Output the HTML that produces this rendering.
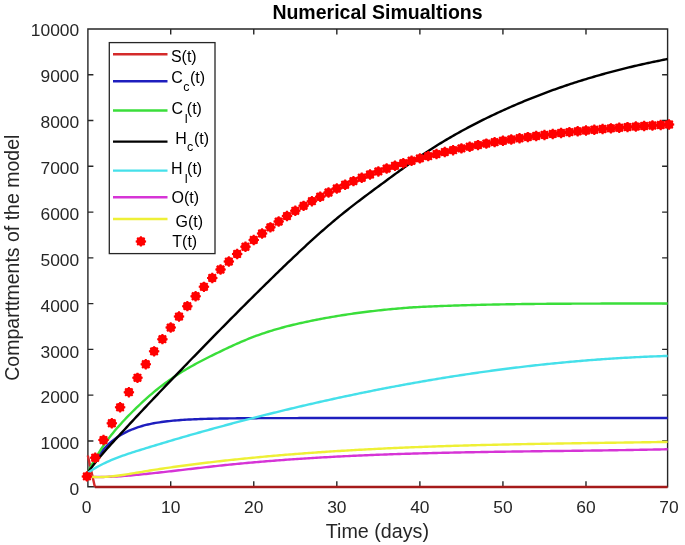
<!DOCTYPE html>
<html><head><meta charset="utf-8"><style>
html,body{margin:0;padding:0;background:#fff;}
svg{display:block;will-change:transform;}
text{font-family:"Liberation Sans",sans-serif;}
</style></head><body>
<svg width="685" height="545" viewBox="0 0 685 545">
<defs>
<g id="mk"><circle r="4.5" fill="#ff0000"/>
<path d="M-5.2,0H5.2M0,-5.2V5.2M-3.7,-3.7L3.7,3.7M-3.7,3.7L3.7,-3.7" stroke="#ff0000" stroke-width="2"/></g>
</defs>
<rect width="685" height="545" fill="#fff"/>
<text x="377.5" y="18.8" text-anchor="middle" font-weight="bold" font-size="19.5" fill="#000">Numerical Simualtions</text>
<g fill="#262626" font-size="17.4">
<text x="86.70" y="512.5" text-anchor="middle">0</text><text x="170.71" y="512.5" text-anchor="middle">10</text><text x="253.76" y="512.5" text-anchor="middle">20</text><text x="336.82" y="512.5" text-anchor="middle">30</text><text x="419.88" y="512.5" text-anchor="middle">40</text><text x="502.93" y="512.5" text-anchor="middle">50</text><text x="585.99" y="512.5" text-anchor="middle">60</text><text x="668.95" y="512.5" text-anchor="middle">70</text><text x="79.2" y="495.25" text-anchor="end">0</text><text x="79.2" y="449.35" text-anchor="end">1000</text><text x="79.2" y="403.45" text-anchor="end">2000</text><text x="79.2" y="357.55" text-anchor="end">3000</text><text x="79.2" y="311.65" text-anchor="end">4000</text><text x="79.2" y="265.75" text-anchor="end">5000</text><text x="79.2" y="219.85" text-anchor="end">6000</text><text x="79.2" y="173.95" text-anchor="end">7000</text><text x="79.2" y="128.05" text-anchor="end">8000</text><text x="79.2" y="82.15" text-anchor="end">9000</text><text x="79.2" y="36.25" text-anchor="end">10000</text>
</g>
<text x="377.4" y="538.4" text-anchor="middle" font-size="19.7" fill="#262626">Time (days)</text>
<text transform="translate(18.6,257.7) rotate(-90)" text-anchor="middle" font-size="19.5" fill="#262626">Comparttments of the model</text>
<path d="M87.9 29.0H667.6V486.7H87.9ZM170.71 486.7V481.2M170.71 29.0V34.5M253.76 486.7V481.2M253.76 29.0V34.5M336.82 486.7V481.2M336.82 29.0V34.5M419.88 486.7V481.2M419.88 29.0V34.5M502.93 486.7V481.2M502.93 29.0V34.5M585.99 486.7V481.2M585.99 29.0V34.5M87.9 486.70H93.4M667.6 486.70H662.1M87.9 440.93H93.4M667.6 440.93H662.1M87.9 395.16H93.4M667.6 395.16H662.1M87.9 349.39H93.4M667.6 349.39H662.1M87.9 303.62H93.4M667.6 303.62H662.1M87.9 257.85H93.4M667.6 257.85H662.1M87.9 212.08H93.4M667.6 212.08H662.1M87.9 166.31H93.4M667.6 166.31H662.1M87.9 120.54H93.4M667.6 120.54H662.1M87.9 74.77H93.4M667.6 74.77H662.1M87.9 29.00H93.4M667.6 29.00H662.1" fill="none" stroke="#262626" stroke-width="1.4"/>
<polyline points="87.80,455.58 94.84,486.70" stroke="#d42a2a" stroke-width="2.4" fill="none"/><polyline points="87.80,472.97 89.74,469.30 91.68,465.88 93.62,462.69 95.56,459.71 97.50,456.93 99.43,454.34 101.37,451.91 103.31,449.65 105.25,447.54 107.19,445.58 109.13,443.74 111.07,442.02 113.01,440.42 114.95,438.93 116.89,437.54 118.83,436.24 120.77,435.02 122.70,433.89 124.64,432.83 126.58,431.85 128.52,430.92 130.46,430.06 132.40,429.26 134.34,428.51 136.28,427.82 138.22,427.16 140.16,426.55 142.10,425.99 144.03,425.46 145.97,424.96 147.91,424.50 149.85,424.07 151.79,423.67 153.73,423.29 155.67,422.94 157.61,422.62 159.55,422.31 161.49,422.03 163.43,421.76 165.37,421.51 167.30,421.28 169.24,421.07 171.18,420.86 173.12,420.68 175.06,420.50 177.00,420.34 178.94,420.18 180.88,420.04 182.82,419.91 184.76,419.78 186.70,419.67 188.63,419.56 190.57,419.46 192.51,419.36 194.45,419.28 196.39,419.19 198.33,419.12 200.27,419.05 202.21,418.98 204.15,418.92 206.09,418.86 208.03,418.80 209.97,418.75 211.90,418.71 213.84,418.66 215.78,418.62 217.72,418.58 219.66,418.55 221.60,418.51 223.54,418.48 225.48,418.45 227.42,418.43 229.36,418.40 231.30,418.38 233.23,418.35 235.17,418.33 237.11,418.31 239.05,418.30 240.99,418.28 242.93,418.26 244.87,418.25 246.81,418.24 248.75,418.22 250.69,418.21 252.63,418.20 254.57,418.19 256.50,418.18 258.44,418.17 260.38,418.16 262.32,418.15 264.26,418.15 266.20,418.14 268.14,418.13 270.08,418.13 272.02,418.12 273.96,418.12 275.90,418.11 277.83,418.11 279.77,418.10 281.71,418.10 283.65,418.10 285.59,418.09 287.53,418.09 289.47,418.09 291.41,418.08 293.35,418.08 295.29,418.08 297.23,418.08 299.17,418.07 301.10,418.07 303.04,418.07 304.98,418.07 306.92,418.07 308.86,418.07 310.80,418.06 312.74,418.06 314.68,418.06 316.62,418.06 318.56,418.06 320.50,418.06 322.43,418.06 324.37,418.06 326.31,418.06 328.25,418.06 330.19,418.05 332.13,418.05 334.07,418.05 336.01,418.05 337.95,418.05 339.89,418.05 341.83,418.05 343.77,418.05 345.70,418.05 347.64,418.05 349.58,418.05 351.52,418.05 353.46,418.05 355.40,418.05 357.34,418.05 359.28,418.05 361.22,418.05 363.16,418.05 365.10,418.05 367.03,418.05 368.97,418.05 370.91,418.05 372.85,418.05 374.79,418.05 376.73,418.05 378.67,418.05 380.61,418.05 382.55,418.05 384.49,418.05 386.43,418.05 388.37,418.05 390.30,418.05 392.24,418.05 394.18,418.05 396.12,418.05 398.06,418.05 400.00,418.05 401.94,418.05 403.88,418.05 405.82,418.05 407.76,418.05 409.70,418.05 411.63,418.05 413.57,418.05 415.51,418.05 417.45,418.05 419.39,418.05 421.33,418.05 423.27,418.05 425.21,418.05 427.15,418.05 429.09,418.05 431.03,418.05 432.97,418.05 434.90,418.05 436.84,418.05 438.78,418.05 440.72,418.05 442.66,418.05 444.60,418.05 446.54,418.05 448.48,418.05 450.42,418.05 452.36,418.05 454.30,418.05 456.23,418.05 458.17,418.05 460.11,418.05 462.05,418.05 463.99,418.05 465.93,418.05 467.87,418.05 469.81,418.05 471.75,418.05 473.69,418.05 475.63,418.05 477.57,418.05 479.50,418.05 481.44,418.05 483.38,418.05 485.32,418.05 487.26,418.05 489.20,418.05 491.14,418.05 493.08,418.05 495.02,418.05 496.96,418.05 498.90,418.05 500.83,418.05 502.77,418.05 504.71,418.05 506.65,418.05 508.59,418.05 510.53,418.05 512.47,418.05 514.41,418.05 516.35,418.05 518.29,418.05 520.23,418.05 522.17,418.05 524.10,418.05 526.04,418.05 527.98,418.05 529.92,418.05 531.86,418.05 533.80,418.05 535.74,418.05 537.68,418.05 539.62,418.05 541.56,418.05 543.50,418.05 545.43,418.05 547.37,418.05 549.31,418.05 551.25,418.05 553.19,418.05 555.13,418.05 557.07,418.05 559.01,418.05 560.95,418.05 562.89,418.05 564.83,418.05 566.77,418.05 568.70,418.05 570.64,418.05 572.58,418.05 574.52,418.05 576.46,418.05 578.40,418.05 580.34,418.05 582.28,418.05 584.22,418.05 586.16,418.05 588.10,418.05 590.03,418.05 591.97,418.05 593.91,418.05 595.85,418.05 597.79,418.05 599.73,418.05 601.67,418.05 603.61,418.05 605.55,418.05 607.49,418.05 609.43,418.05 611.37,418.05 613.30,418.05 615.24,418.05 617.18,418.05 619.12,418.05 621.06,418.05 623.00,418.05 624.94,418.05 626.88,418.05 628.82,418.05 630.76,418.05 632.70,418.05 634.63,418.05 636.57,418.05 638.51,418.05 640.45,418.05 642.39,418.05 644.33,418.05 646.27,418.05 648.21,418.05 650.15,418.05 652.09,418.05 654.03,418.05 655.97,418.05 657.90,418.05 659.84,418.05 661.78,418.05 663.72,418.05 665.66,418.05 667.60,418.05" stroke="#1e1ebe" stroke-width="2.4" fill="none"/><polyline points="87.80,472.51 89.74,468.71 91.68,465.04 93.62,461.51 95.56,458.12 97.50,454.88 99.43,451.76 101.37,448.76 103.31,445.88 105.25,443.10 107.19,440.43 109.13,437.85 111.07,435.35 113.01,432.93 114.95,430.59 116.89,428.32 118.83,426.11 120.77,423.94 122.70,421.81 124.64,419.74 126.58,417.70 128.52,415.70 130.46,413.72 132.40,411.77 134.34,409.85 136.28,407.96 138.22,406.10 140.16,404.25 142.10,402.44 144.03,400.65 145.97,398.89 147.91,397.16 149.85,395.46 151.79,393.79 153.73,392.15 155.67,390.55 157.61,388.98 159.55,387.43 161.49,385.93 163.43,384.45 165.37,383.01 167.30,381.60 169.24,380.22 171.18,378.87 173.12,377.55 175.06,376.26 177.00,374.99 178.94,373.75 180.88,372.53 182.82,371.33 184.76,370.16 186.70,369.01 188.63,367.88 190.57,366.77 192.51,365.68 194.45,364.61 196.39,363.55 198.33,362.51 200.27,361.48 202.21,360.47 204.15,359.47 206.09,358.48 208.03,357.50 209.97,356.53 211.90,355.57 213.84,354.62 215.78,353.67 217.72,352.74 219.66,351.80 221.60,350.87 223.54,349.94 225.48,349.02 227.42,348.11 229.36,347.20 231.30,346.30 233.23,345.41 235.17,344.53 237.11,343.66 239.05,342.80 240.99,341.96 242.93,341.12 244.87,340.30 246.81,339.50 248.75,338.72 250.69,337.95 252.63,337.19 254.57,336.46 256.50,335.74 258.44,335.04 260.38,334.35 262.32,333.68 264.26,333.02 266.20,332.38 268.14,331.76 270.08,331.14 272.02,330.55 273.96,329.96 275.90,329.39 277.83,328.83 279.77,328.28 281.71,327.75 283.65,327.23 285.59,326.71 287.53,326.21 289.47,325.72 291.41,325.24 293.35,324.77 295.29,324.31 297.23,323.85 299.17,323.41 301.10,322.97 303.04,322.55 304.98,322.12 306.92,321.71 308.86,321.30 310.80,320.90 312.74,320.51 314.68,320.12 316.62,319.74 318.56,319.36 320.50,318.99 322.43,318.63 324.37,318.27 326.31,317.92 328.25,317.57 330.19,317.23 332.13,316.89 334.07,316.56 336.01,316.24 337.95,315.92 339.89,315.60 341.83,315.30 343.77,314.99 345.70,314.70 347.64,314.40 349.58,314.12 351.52,313.84 353.46,313.56 355.40,313.29 357.34,313.02 359.28,312.76 361.22,312.50 363.16,312.25 365.10,312.01 367.03,311.76 368.97,311.53 370.91,311.29 372.85,311.07 374.79,310.84 376.73,310.63 378.67,310.41 380.61,310.20 382.55,310.00 384.49,309.80 386.43,309.60 388.37,309.41 390.30,309.22 392.24,309.04 394.18,308.86 396.12,308.69 398.06,308.51 400.00,308.35 401.94,308.18 403.88,308.02 405.82,307.86 407.76,307.71 409.70,307.56 411.63,307.44 413.57,307.32 415.51,307.21 417.45,307.10 419.39,307.00 421.33,306.90 423.27,306.80 425.21,306.71 427.15,306.62 429.09,306.54 431.03,306.45 432.97,306.37 434.90,306.29 436.84,306.21 438.78,306.13 440.72,306.06 442.66,305.98 444.60,305.91 446.54,305.84 448.48,305.76 450.42,305.70 452.36,305.63 454.30,305.56 456.23,305.50 458.17,305.43 460.11,305.37 462.05,305.31 463.99,305.25 465.93,305.20 467.87,305.14 469.81,305.09 471.75,305.04 473.69,304.99 475.63,304.94 477.57,304.89 479.50,304.84 481.44,304.80 483.38,304.75 485.32,304.71 487.26,304.66 489.20,304.62 491.14,304.58 493.08,304.54 495.02,304.50 496.96,304.46 498.90,304.43 500.83,304.39 502.77,304.36 504.71,304.33 506.65,304.30 508.59,304.27 510.53,304.24 512.47,304.21 514.41,304.18 516.35,304.15 518.29,304.13 520.23,304.10 522.17,304.07 524.10,304.05 526.04,304.02 527.98,304.00 529.92,303.98 531.86,303.96 533.80,303.94 535.74,303.92 537.68,303.90 539.62,303.88 541.56,303.86 543.50,303.85 545.43,303.83 547.37,303.82 549.31,303.80 551.25,303.79 553.19,303.78 555.13,303.77 557.07,303.75 559.01,303.74 560.95,303.73 562.89,303.72 564.83,303.71 566.77,303.70 568.70,303.69 570.64,303.68 572.58,303.67 574.52,303.66 576.46,303.65 578.40,303.64 580.34,303.64 582.28,303.63 584.22,303.62 586.16,303.62 588.10,303.61 590.03,303.60 591.97,303.60 593.91,303.59 595.85,303.59 597.79,303.58 599.73,303.58 601.67,303.57 603.61,303.57 605.55,303.57 607.49,303.56 609.43,303.56 611.37,303.55 613.30,303.55 615.24,303.55 617.18,303.54 619.12,303.54 621.06,303.54 623.00,303.53 624.94,303.53 626.88,303.53 628.82,303.52 630.76,303.52 632.70,303.52 634.63,303.52 636.57,303.51 638.51,303.51 640.45,303.51 642.39,303.51 644.33,303.50 646.27,303.50 648.21,303.50 650.15,303.50 652.09,303.50 654.03,303.49 655.97,303.49 657.90,303.49 659.84,303.49 661.78,303.49 663.72,303.49 665.66,303.48 667.60,303.48" stroke="#3ade3a" stroke-width="2.4" fill="none"/><polyline points="87.80,472.80 89.74,470.07 91.68,467.40 93.62,464.81 95.56,462.29 97.50,459.85 99.43,457.48 101.37,455.17 103.31,452.90 105.25,450.67 107.19,448.48 109.13,446.33 111.07,444.20 113.01,442.07 114.95,439.95 116.89,437.84 118.83,435.74 120.77,433.64 122.70,431.54 124.64,429.44 126.58,427.35 128.52,425.26 130.46,423.17 132.40,421.09 134.34,419.01 136.28,416.93 138.22,414.86 140.16,412.79 142.10,410.72 144.03,408.66 145.97,406.60 147.91,404.55 149.85,402.50 151.79,400.45 153.73,398.40 155.67,396.36 157.61,394.32 159.55,392.29 161.49,390.25 163.43,388.22 165.37,386.19 167.30,384.17 169.24,382.15 171.18,380.13 173.12,378.11 175.06,376.09 177.00,374.08 178.94,372.07 180.88,370.06 182.82,368.05 184.76,366.04 186.70,364.04 188.63,362.04 190.57,360.03 192.51,358.03 194.45,356.04 196.39,354.04 198.33,352.05 200.27,350.05 202.21,348.06 204.15,346.07 206.09,344.08 208.03,342.10 209.97,340.11 211.90,338.13 213.84,336.15 215.78,334.17 217.72,332.20 219.66,330.23 221.60,328.26 223.54,326.29 225.48,324.32 227.42,322.36 229.36,320.40 231.30,318.44 233.23,316.48 235.17,314.53 237.11,312.58 239.05,310.63 240.99,308.68 242.93,306.74 244.87,304.80 246.81,302.87 248.75,300.93 250.69,299.00 252.63,297.08 254.57,295.15 256.50,293.23 258.44,291.31 260.38,289.40 262.32,287.49 264.26,285.58 266.20,283.68 268.14,281.78 270.08,279.88 272.02,277.99 273.96,276.10 275.90,274.21 277.83,272.33 279.77,270.46 281.71,268.58 283.65,266.71 285.59,264.85 287.53,262.99 289.47,261.13 291.41,259.28 293.35,257.44 295.29,255.61 297.23,253.78 299.17,251.95 301.10,250.14 303.04,248.33 304.98,246.53 306.92,244.74 308.86,242.96 310.80,241.18 312.74,239.42 314.68,237.67 316.62,235.92 318.56,234.19 320.50,232.47 322.43,230.76 324.37,229.06 326.31,227.37 328.25,225.70 330.19,224.04 332.13,222.39 334.07,220.75 336.01,219.13 337.95,217.52 339.89,215.93 341.83,214.35 343.77,212.79 345.70,211.23 347.64,209.69 349.58,208.17 351.52,206.65 353.46,205.15 355.40,203.65 357.34,202.17 359.28,200.69 361.22,199.22 363.16,197.76 365.10,196.30 367.03,194.85 368.97,193.40 370.91,191.96 372.85,190.52 374.79,189.09 376.73,187.65 378.67,186.22 380.61,184.79 382.55,183.36 384.49,181.92 386.43,180.50 388.37,179.07 390.30,177.64 392.24,176.22 394.18,174.80 396.12,173.39 398.06,171.97 400.00,170.57 401.94,169.17 403.88,167.77 405.82,166.39 407.76,165.01 409.70,163.63 411.63,162.27 413.57,160.92 415.51,159.57 417.45,158.23 419.39,156.91 421.33,155.60 423.27,154.30 425.21,153.00 427.15,151.73 429.09,150.46 431.03,149.21 432.97,147.97 434.90,146.75 436.84,145.53 438.78,144.33 440.72,143.14 442.66,141.96 444.60,140.80 446.54,139.64 448.48,138.50 450.42,137.37 452.36,136.25 454.30,135.14 456.23,134.04 458.17,132.95 460.11,131.87 462.05,130.81 463.99,129.75 465.93,128.70 467.87,127.66 469.81,126.64 471.75,125.62 473.69,124.61 475.63,123.61 477.57,122.62 479.50,121.64 481.44,120.66 483.38,119.70 485.32,118.74 487.26,117.79 489.20,116.85 491.14,115.92 493.08,114.99 495.02,114.08 496.96,113.17 498.90,112.27 500.83,111.37 502.77,110.49 504.71,109.61 506.65,108.74 508.59,107.87 510.53,107.02 512.47,106.17 514.41,105.33 516.35,104.49 518.29,103.67 520.23,102.85 522.17,102.03 524.10,101.23 526.04,100.43 527.98,99.64 529.92,98.86 531.86,98.08 533.80,97.31 535.74,96.55 537.68,95.79 539.62,95.04 541.56,94.30 543.50,93.57 545.43,92.84 547.37,92.12 549.31,91.40 551.25,90.69 553.19,89.99 555.13,89.30 557.07,88.61 559.01,87.93 560.95,87.25 562.89,86.58 564.83,85.92 566.77,85.26 568.70,84.62 570.64,83.97 572.58,83.34 574.52,82.70 576.46,82.08 578.40,81.46 580.34,80.85 582.28,80.24 584.22,79.64 586.16,79.05 588.10,78.46 590.03,77.88 591.97,77.30 593.91,76.73 595.85,76.17 597.79,75.61 599.73,75.05 601.67,74.51 603.61,73.97 605.55,73.43 607.49,72.90 609.43,72.38 611.37,71.86 613.30,71.34 615.24,70.83 617.18,70.33 619.12,69.83 621.06,69.34 623.00,68.86 624.94,68.37 626.88,67.90 628.82,67.43 630.76,66.96 632.70,66.50 634.63,66.04 636.57,65.59 638.51,65.15 640.45,64.71 642.39,64.27 644.33,63.84 646.27,63.42 648.21,63.00 650.15,62.58 652.09,62.17 654.03,61.76 655.97,61.36 657.90,60.96 659.84,60.57 661.78,60.18 663.72,59.80 665.66,59.42 667.60,59.05" stroke="#000000" stroke-width="2.4" fill="none"/><polyline points="87.80,472.75 89.74,471.47 91.68,470.24 93.62,469.05 95.56,467.90 97.50,466.81 99.43,465.75 101.37,464.73 103.31,463.76 105.25,462.82 107.19,461.91 109.13,461.04 111.07,460.20 113.01,459.38 114.95,458.59 116.89,457.83 118.83,457.10 120.77,456.38 122.70,455.68 124.64,455.01 126.58,454.34 128.52,453.70 130.46,453.06 132.40,452.43 134.34,451.81 136.28,451.20 138.22,450.59 140.16,449.99 142.10,449.39 144.03,448.79 145.97,448.19 147.91,447.60 149.85,447.00 151.79,446.41 153.73,445.82 155.67,445.23 157.61,444.65 159.55,444.06 161.49,443.48 163.43,442.90 165.37,442.32 167.30,441.74 169.24,441.17 171.18,440.59 173.12,440.02 175.06,439.45 177.00,438.88 178.94,438.32 180.88,437.75 182.82,437.19 184.76,436.63 186.70,436.07 188.63,435.52 190.57,434.96 192.51,434.41 194.45,433.86 196.39,433.31 198.33,432.76 200.27,432.22 202.21,431.67 204.15,431.13 206.09,430.59 208.03,430.05 209.97,429.51 211.90,428.98 213.84,428.45 215.78,427.91 217.72,427.38 219.66,426.86 221.60,426.33 223.54,425.81 225.48,425.28 227.42,424.76 229.36,424.24 231.30,423.73 233.23,423.21 235.17,422.70 237.11,422.18 239.05,421.67 240.99,421.16 242.93,420.66 244.87,420.15 246.81,419.65 248.75,419.15 250.69,418.65 252.63,418.15 254.57,417.65 256.50,417.16 258.44,416.66 260.38,416.17 262.32,415.68 264.26,415.19 266.20,414.71 268.14,414.22 270.08,413.74 272.02,413.26 273.96,412.78 275.90,412.30 277.83,411.82 279.77,411.35 281.71,410.88 283.65,410.40 285.59,409.94 287.53,409.47 289.47,409.00 291.41,408.54 293.35,408.08 295.29,407.62 297.23,407.16 299.17,406.70 301.10,406.25 303.04,405.79 304.98,405.34 306.92,404.89 308.86,404.44 310.80,404.00 312.74,403.55 314.68,403.11 316.62,402.67 318.56,402.23 320.50,401.79 322.43,401.36 324.37,400.92 326.31,400.49 328.25,400.06 330.19,399.63 332.13,399.21 334.07,398.78 336.01,398.36 337.95,397.94 339.89,397.52 341.83,397.11 343.77,396.69 345.70,396.28 347.64,395.87 349.58,395.46 351.52,395.05 353.46,394.64 355.40,394.24 357.34,393.84 359.28,393.44 361.22,393.04 363.16,392.64 365.10,392.25 367.03,391.85 368.97,391.46 370.91,391.07 372.85,390.69 374.79,390.30 376.73,389.92 378.67,389.54 380.61,389.16 382.55,388.78 384.49,388.40 386.43,388.03 388.37,387.66 390.30,387.29 392.24,386.92 394.18,386.56 396.12,386.19 398.06,385.83 400.00,385.47 401.94,385.11 403.88,384.76 405.82,384.40 407.76,384.05 409.70,383.70 411.63,383.35 413.57,383.00 415.51,382.66 417.45,382.32 419.39,381.98 421.33,381.64 423.27,381.30 425.21,380.97 427.15,380.63 429.09,380.30 431.03,379.98 432.97,379.65 434.90,379.32 436.84,379.00 438.78,378.68 440.72,378.36 442.66,378.05 444.60,377.73 446.54,377.42 448.48,377.11 450.42,376.80 452.36,376.50 454.30,376.19 456.23,375.89 458.17,375.59 460.11,375.29 462.05,374.99 463.99,374.70 465.93,374.41 467.87,374.12 469.81,373.83 471.75,373.55 473.69,373.26 475.63,372.98 477.57,372.70 479.50,372.42 481.44,372.15 483.38,371.87 485.32,371.60 487.26,371.33 489.20,371.07 491.14,370.80 493.08,370.54 495.02,370.28 496.96,370.02 498.90,369.76 500.83,369.51 502.77,369.26 504.71,369.01 506.65,368.76 508.59,368.51 510.53,368.27 512.47,368.03 514.41,367.79 516.35,367.55 518.29,367.32 520.23,367.08 522.17,366.85 524.10,366.62 526.04,366.40 527.98,366.17 529.92,365.95 531.86,365.73 533.80,365.51 535.74,365.30 537.68,365.09 539.62,364.87 541.56,364.67 543.50,364.46 545.43,364.25 547.37,364.05 549.31,363.85 551.25,363.65 553.19,363.46 555.13,363.26 557.07,363.07 559.01,362.88 560.95,362.70 562.89,362.51 564.83,362.33 566.77,362.15 568.70,361.97 570.64,361.80 572.58,361.62 574.52,361.45 576.46,361.28 578.40,361.11 580.34,360.95 582.28,360.79 584.22,360.63 586.16,360.47 588.10,360.31 590.03,360.16 591.97,360.01 593.91,359.86 595.85,359.72 597.79,359.57 599.73,359.43 601.67,359.29 603.61,359.15 605.55,359.02 607.49,358.89 609.43,358.75 611.37,358.63 613.30,358.50 615.24,358.38 617.18,358.26 619.12,358.14 621.06,358.02 623.00,357.91 624.94,357.80 626.88,357.69 628.82,357.58 630.76,357.47 632.70,357.37 634.63,357.27 636.57,357.17 638.51,357.08 640.45,356.99 642.39,356.90 644.33,356.81 646.27,356.72 648.21,356.64 650.15,356.56 652.09,356.48 654.03,356.40 655.97,356.33 657.90,356.26 659.84,356.19 661.78,356.12 663.72,356.06 665.66,355.99 667.60,355.94" stroke="#45e0ea" stroke-width="2.4" fill="none"/><polyline points="87.80,476.68 89.74,476.77 91.68,476.85 93.62,476.91 95.56,476.95 97.50,476.97 99.43,476.98 101.37,476.97 103.31,476.95 105.25,476.92 107.19,476.87 109.13,476.81 111.07,476.73 113.01,476.65 114.95,476.55 116.89,476.44 118.83,476.32 120.77,476.20 122.70,476.06 124.64,475.92 126.58,475.76 128.52,475.61 130.46,475.44 132.40,475.27 134.34,475.09 136.28,474.91 138.22,474.72 140.16,474.53 142.10,474.34 144.03,474.15 145.97,473.95 147.91,473.75 149.85,473.54 151.79,473.34 153.73,473.13 155.67,472.92 157.61,472.71 159.55,472.50 161.49,472.28 163.43,472.07 165.37,471.85 167.30,471.63 169.24,471.41 171.18,471.19 173.12,470.96 175.06,470.74 177.00,470.52 178.94,470.29 180.88,470.07 182.82,469.84 184.76,469.62 186.70,469.39 188.63,469.16 190.57,468.94 192.51,468.71 194.45,468.49 196.39,468.27 198.33,468.04 200.27,467.82 202.21,467.60 204.15,467.38 206.09,467.16 208.03,466.94 209.97,466.73 211.90,466.51 213.84,466.30 215.78,466.09 217.72,465.88 219.66,465.67 221.60,465.47 223.54,465.26 225.48,465.06 227.42,464.87 229.36,464.67 231.30,464.47 233.23,464.28 235.17,464.09 237.11,463.90 239.05,463.72 240.99,463.53 242.93,463.35 244.87,463.17 246.81,462.99 248.75,462.81 250.69,462.64 252.63,462.47 254.57,462.30 256.50,462.13 258.44,461.96 260.38,461.79 262.32,461.63 264.26,461.47 266.20,461.31 268.14,461.15 270.08,460.99 272.02,460.84 273.96,460.69 275.90,460.54 277.83,460.39 279.77,460.24 281.71,460.09 283.65,459.95 285.59,459.81 287.53,459.67 289.47,459.53 291.41,459.39 293.35,459.25 295.29,459.12 297.23,458.99 299.17,458.86 301.10,458.73 303.04,458.60 304.98,458.47 306.92,458.35 308.86,458.23 310.80,458.10 312.74,457.99 314.68,457.87 316.62,457.75 318.56,457.63 320.50,457.52 322.43,457.41 324.37,457.30 326.31,457.19 328.25,457.08 330.19,456.97 332.13,456.87 334.07,456.76 336.01,456.66 337.95,456.56 339.89,456.46 341.83,456.36 343.77,456.27 345.70,456.17 347.64,456.08 349.58,455.98 351.52,455.89 353.46,455.80 355.40,455.71 357.34,455.62 359.28,455.54 361.22,455.45 363.16,455.37 365.10,455.28 367.03,455.20 368.97,455.12 370.91,455.04 372.85,454.96 374.79,454.89 376.73,454.81 378.67,454.73 380.61,454.66 382.55,454.59 384.49,454.52 386.43,454.45 388.37,454.38 390.30,454.31 392.24,454.24 394.18,454.17 396.12,454.11 398.06,454.04 400.00,453.98 401.94,453.92 403.88,453.86 405.82,453.80 407.76,453.74 409.70,453.68 411.63,453.62 413.57,453.56 415.51,453.51 417.45,453.45 419.39,453.40 421.33,453.34 423.27,453.29 425.21,453.24 427.15,453.19 429.09,453.14 431.03,453.09 432.97,453.04 434.90,452.99 436.84,452.94 438.78,452.90 440.72,452.85 442.66,452.81 444.60,452.76 446.54,452.72 448.48,452.68 450.42,452.64 452.36,452.59 454.30,452.55 456.23,452.51 458.17,452.47 460.11,452.43 462.05,452.40 463.99,452.36 465.93,452.32 467.87,452.28 469.81,452.25 471.75,452.21 473.69,452.18 475.63,452.14 477.57,452.11 479.50,452.08 481.44,452.04 483.38,452.01 485.32,451.98 487.26,451.95 489.20,451.92 491.14,451.89 493.08,451.85 495.02,451.82 496.96,451.80 498.90,451.77 500.83,451.74 502.77,451.71 504.71,451.68 506.65,451.65 508.59,451.63 510.53,451.60 512.47,451.57 514.41,451.54 516.35,451.52 518.29,451.49 520.23,451.47 522.17,451.44 524.10,451.41 526.04,451.39 527.98,451.36 529.92,451.34 531.86,451.31 533.80,451.29 535.74,451.27 537.68,451.24 539.62,451.22 541.56,451.19 543.50,451.17 545.43,451.14 547.37,451.12 549.31,451.10 551.25,451.07 553.19,451.05 555.13,451.03 557.07,451.00 559.01,450.98 560.95,450.95 562.89,450.93 564.83,450.91 566.77,450.88 568.70,450.86 570.64,450.83 572.58,450.81 574.52,450.79 576.46,450.76 578.40,450.74 580.34,450.71 582.28,450.69 584.22,450.66 586.16,450.64 588.10,450.61 590.03,450.59 591.97,450.56 593.91,450.54 595.85,450.51 597.79,450.48 599.73,450.46 601.67,450.43 603.61,450.40 605.55,450.37 607.49,450.35 609.43,450.32 611.37,450.29 613.30,450.26 615.24,450.23 617.18,450.20 619.12,450.17 621.06,450.14 623.00,450.11 624.94,450.08 626.88,450.05 628.82,450.02 630.76,449.99 632.70,449.95 634.63,449.92 636.57,449.89 638.51,449.85 640.45,449.82 642.39,449.78 644.33,449.74 646.27,449.71 648.21,449.67 650.15,449.63 652.09,449.60 654.03,449.56 655.97,449.52 657.90,449.48 659.84,449.44 661.78,449.40 663.72,449.35 665.66,449.31 667.60,449.27" stroke="#d634d6" stroke-width="2.4" fill="none"/><polyline points="87.80,476.58 89.74,476.76 91.68,476.90 93.62,477.00 95.56,477.06 97.50,477.09 99.43,477.09 101.37,477.05 103.31,476.98 105.25,476.88 107.19,476.76 109.13,476.61 111.07,476.43 113.01,476.24 114.95,476.02 116.89,475.79 118.83,475.54 120.77,475.27 122.70,474.99 124.64,474.70 126.58,474.40 128.52,474.08 130.46,473.77 132.40,473.44 134.34,473.12 136.28,472.79 138.22,472.46 140.16,472.13 142.10,471.81 144.03,471.49 145.97,471.17 147.91,470.85 149.85,470.54 151.79,470.23 153.73,469.93 155.67,469.63 157.61,469.33 159.55,469.03 161.49,468.74 163.43,468.45 165.37,468.17 167.30,467.88 169.24,467.60 171.18,467.32 173.12,467.05 175.06,466.78 177.00,466.51 178.94,466.24 180.88,465.98 182.82,465.72 184.76,465.46 186.70,465.20 188.63,464.95 190.57,464.70 192.51,464.45 194.45,464.20 196.39,463.96 198.33,463.72 200.27,463.48 202.21,463.24 204.15,463.01 206.09,462.78 208.03,462.54 209.97,462.32 211.90,462.09 213.84,461.87 215.78,461.64 217.72,461.42 219.66,461.20 221.60,460.99 223.54,460.77 225.48,460.56 227.42,460.35 229.36,460.14 231.30,459.93 233.23,459.72 235.17,459.52 237.11,459.32 239.05,459.12 240.99,458.92 242.93,458.72 244.87,458.53 246.81,458.33 248.75,458.14 250.69,457.95 252.63,457.76 254.57,457.58 256.50,457.39 258.44,457.21 260.38,457.03 262.32,456.85 264.26,456.67 266.20,456.49 268.14,456.32 270.08,456.15 272.02,455.97 273.96,455.81 275.90,455.64 277.83,455.47 279.77,455.31 281.71,455.14 283.65,454.98 285.59,454.82 287.53,454.66 289.47,454.50 291.41,454.35 293.35,454.19 295.29,454.04 297.23,453.89 299.17,453.74 301.10,453.59 303.04,453.45 304.98,453.30 306.92,453.16 308.86,453.01 310.80,452.87 312.74,452.73 314.68,452.60 316.62,452.46 318.56,452.32 320.50,452.19 322.43,452.06 324.37,451.93 326.31,451.80 328.25,451.67 330.19,451.54 332.13,451.42 334.07,451.29 336.01,451.17 337.95,451.05 339.89,450.93 341.83,450.81 343.77,450.69 345.70,450.58 347.64,450.46 349.58,450.35 351.52,450.23 353.46,450.12 355.40,450.01 357.34,449.90 359.28,449.80 361.22,449.69 363.16,449.58 365.10,449.48 367.03,449.38 368.97,449.28 370.91,449.18 372.85,449.08 374.79,448.98 376.73,448.88 378.67,448.78 380.61,448.69 382.55,448.60 384.49,448.50 386.43,448.41 388.37,448.32 390.30,448.23 392.24,448.14 394.18,448.06 396.12,447.97 398.06,447.88 400.00,447.80 401.94,447.72 403.88,447.64 405.82,447.55 407.76,447.47 409.70,447.39 411.63,447.32 413.57,447.24 415.51,447.16 417.45,447.09 419.39,447.01 421.33,446.94 423.27,446.87 425.21,446.80 427.15,446.72 429.09,446.65 431.03,446.59 432.97,446.52 434.90,446.45 436.84,446.38 438.78,446.32 440.72,446.25 442.66,446.19 444.60,446.13 446.54,446.06 448.48,446.00 450.42,445.94 452.36,445.88 454.30,445.82 456.23,445.76 458.17,445.71 460.11,445.65 462.05,445.59 463.99,445.54 465.93,445.48 467.87,445.43 469.81,445.38 471.75,445.32 473.69,445.27 475.63,445.22 477.57,445.17 479.50,445.12 481.44,445.07 483.38,445.02 485.32,444.97 487.26,444.92 489.20,444.88 491.14,444.83 493.08,444.79 495.02,444.74 496.96,444.70 498.90,444.65 500.83,444.61 502.77,444.57 504.71,444.52 506.65,444.48 508.59,444.44 510.53,444.40 512.47,444.36 514.41,444.32 516.35,444.28 518.29,444.24 520.23,444.20 522.17,444.16 524.10,444.13 526.04,444.09 527.98,444.05 529.92,444.02 531.86,443.98 533.80,443.94 535.74,443.91 537.68,443.88 539.62,443.84 541.56,443.81 543.50,443.77 545.43,443.74 547.37,443.71 549.31,443.67 551.25,443.64 553.19,443.61 555.13,443.58 557.07,443.55 559.01,443.51 560.95,443.48 562.89,443.45 564.83,443.42 566.77,443.39 568.70,443.36 570.64,443.33 572.58,443.30 574.52,443.27 576.46,443.24 578.40,443.22 580.34,443.19 582.28,443.16 584.22,443.13 586.16,443.10 588.10,443.07 590.03,443.05 591.97,443.02 593.91,442.99 595.85,442.96 597.79,442.93 599.73,442.91 601.67,442.88 603.61,442.85 605.55,442.82 607.49,442.80 609.43,442.77 611.37,442.74 613.30,442.72 615.24,442.69 617.18,442.66 619.12,442.63 621.06,442.61 623.00,442.58 624.94,442.55 626.88,442.52 628.82,442.50 630.76,442.47 632.70,442.44 634.63,442.41 636.57,442.39 638.51,442.36 640.45,442.33 642.39,442.30 644.33,442.28 646.27,442.25 648.21,442.22 650.15,442.19 652.09,442.16 654.03,442.13 655.97,442.10 657.90,442.07 659.84,442.04 661.78,442.01 663.72,441.98 665.66,441.95 667.60,441.92" stroke="#eef036" stroke-width="2.4" fill="none"/>
<line x1="94.84" y1="487.00" x2="667.6" y2="487.00" stroke="#a51a1a" stroke-width="2.6"/>
<use href="#mk" x="86.90" y="476.42"/><use href="#mk" x="95.21" y="457.75"/><use href="#mk" x="103.51" y="440.04"/><use href="#mk" x="111.82" y="423.24"/><use href="#mk" x="120.12" y="407.31"/><use href="#mk" x="128.88" y="392.19"/><use href="#mk" x="137.48" y="377.86"/><use href="#mk" x="145.79" y="364.27"/><use href="#mk" x="154.10" y="351.37"/><use href="#mk" x="162.40" y="339.15"/><use href="#mk" x="170.71" y="327.55"/><use href="#mk" x="179.01" y="316.55"/><use href="#mk" x="187.32" y="306.13"/><use href="#mk" x="195.62" y="296.24"/><use href="#mk" x="203.93" y="286.86"/><use href="#mk" x="212.24" y="277.96"/><use href="#mk" x="220.54" y="269.53"/><use href="#mk" x="228.85" y="261.54"/><use href="#mk" x="237.15" y="253.95"/><use href="#mk" x="245.46" y="246.77"/><use href="#mk" x="253.76" y="239.95"/><use href="#mk" x="262.07" y="233.49"/><use href="#mk" x="270.38" y="227.36"/><use href="#mk" x="278.68" y="221.55"/><use href="#mk" x="286.99" y="216.04"/><use href="#mk" x="295.29" y="210.82"/><use href="#mk" x="303.60" y="205.87"/><use href="#mk" x="311.90" y="201.18"/><use href="#mk" x="320.21" y="196.73"/><use href="#mk" x="328.52" y="192.51"/><use href="#mk" x="336.82" y="188.51"/><use href="#mk" x="345.13" y="184.72"/><use href="#mk" x="353.43" y="181.13"/><use href="#mk" x="361.74" y="177.73"/><use href="#mk" x="370.04" y="174.50"/><use href="#mk" x="378.35" y="171.44"/><use href="#mk" x="386.66" y="168.54"/><use href="#mk" x="394.96" y="165.79"/><use href="#mk" x="403.27" y="163.19"/><use href="#mk" x="411.57" y="160.72"/><use href="#mk" x="419.88" y="158.38"/><use href="#mk" x="428.18" y="156.17"/><use href="#mk" x="436.49" y="154.07"/><use href="#mk" x="444.80" y="152.07"/><use href="#mk" x="453.10" y="150.19"/><use href="#mk" x="461.41" y="148.40"/><use href="#mk" x="469.71" y="146.71"/><use href="#mk" x="478.02" y="145.10"/><use href="#mk" x="486.32" y="143.58"/><use href="#mk" x="494.63" y="142.14"/><use href="#mk" x="502.93" y="140.77"/><use href="#mk" x="511.24" y="139.48"/><use href="#mk" x="519.55" y="138.25"/><use href="#mk" x="527.85" y="137.09"/><use href="#mk" x="536.16" y="135.99"/><use href="#mk" x="544.46" y="134.95"/><use href="#mk" x="552.77" y="133.96"/><use href="#mk" x="561.07" y="133.02"/><use href="#mk" x="569.38" y="132.14"/><use href="#mk" x="577.69" y="131.30"/><use href="#mk" x="585.99" y="130.50"/><use href="#mk" x="594.30" y="129.75"/><use href="#mk" x="602.60" y="129.03"/><use href="#mk" x="610.91" y="128.36"/><use href="#mk" x="619.21" y="127.72"/><use href="#mk" x="627.52" y="127.11"/><use href="#mk" x="635.83" y="126.54"/><use href="#mk" x="644.13" y="125.99"/><use href="#mk" x="652.44" y="125.48"/><use href="#mk" x="660.74" y="124.99"/><use href="#mk" x="669.05" y="124.53"/>
<rect x="109.3" y="42.6" width="105.70" height="211.00" fill="#fff" stroke="#262626" stroke-width="1.3"/><line x1="113" y1="54.3" x2="167.5" y2="54.3" stroke="#d42a2a" stroke-width="2.4"/><line x1="113" y1="81.2" x2="167.5" y2="81.2" stroke="#1e1ebe" stroke-width="2.4"/><line x1="113" y1="110.5" x2="167.5" y2="110.5" stroke="#3ade3a" stroke-width="2.4"/><line x1="113" y1="141.6" x2="167.5" y2="141.6" stroke="#000000" stroke-width="2.4"/><line x1="113" y1="170.6" x2="167.5" y2="170.6" stroke="#45e0ea" stroke-width="2.4"/><line x1="113" y1="197.2" x2="167.5" y2="197.2" stroke="#d634d6" stroke-width="2.4"/><line x1="113" y1="219.0" x2="167.5" y2="219.0" stroke="#eef036" stroke-width="2.4"/><use href="#mk" x="140.90" y="241.40"/>
<g font-size="16" fill="#000">
<text x="170.9" y="62.1">S(t)</text><text x="171.3" y="82.6">C</text><text x="183.2" y="90.5" font-size="12.5">c</text><text x="190.0" y="82.6">(t)</text><text x="171.4" y="114.0">C</text><text x="184.6" y="122.5" font-size="12.5">I</text><text x="186.8" y="114.0">(t)</text><text x="175.3" y="143.5">H</text><text x="187.1" y="150.6" font-size="12.5">c</text><text x="193.9" y="143.5">(t)</text><text x="171.0" y="174.3">H</text><text x="184.5" y="182.5" font-size="12.5">I</text><text x="187.1" y="174.3">(t)</text><text x="171.5" y="203.0">O(t)</text><text x="175.6" y="226.6">G(t)</text><text x="172.3" y="246.7">T(t)</text>
</g>
</svg>
</body></html>
